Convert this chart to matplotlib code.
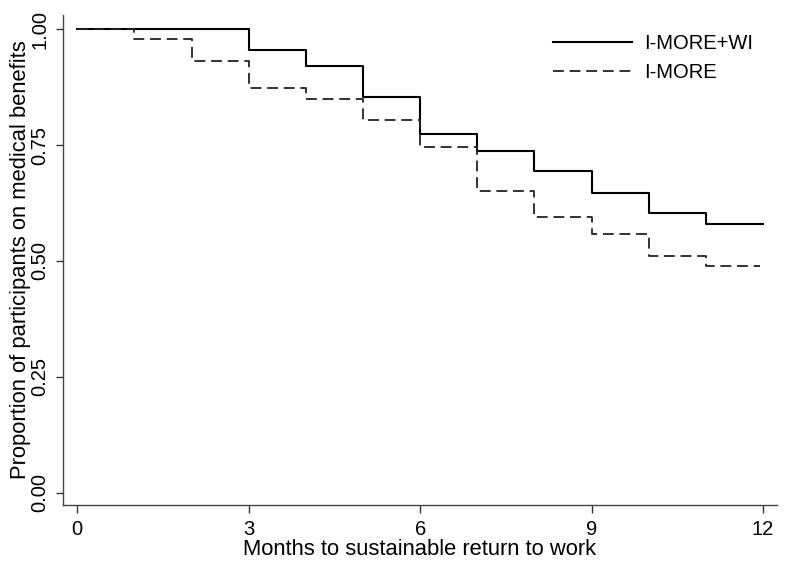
import matplotlib
matplotlib.use("Agg")
import matplotlib.pyplot as plt
import numpy as np

plt.rcParams['font.family'] = ['Liberation Sans', 'DejaVu Sans']

# months and survival proportions
months = [0, 1, 2, 3, 4, 5, 6, 7, 8, 9, 10, 11, 12]
wi = [1.000, 1.000, 1.000, 0.955, 0.920, 0.853, 0.774, 0.738, 0.694, 0.647, 0.603, 0.580, 0.580]
imore = [1.000, 0.978, 0.931, 0.872, 0.849, 0.804, 0.746, 0.651, 0.594, 0.558, 0.511, 0.489, 0.489]

xticks = [0, 3, 6, 9, 12]
yticks = [0.0, 0.25, 0.5, 0.75, 1.0]
ylabels = ['0.00', '0.25', '0.50', '0.75', '1.00']

fig = plt.figure(figsize=(7.87, 5.63), dpi=100)
ax = fig.add_axes([0.080, 0.103, 0.907, 0.870])

ax.step(months, wi, where='post', color='black', lw=1.5, label='I-MORE+WI')
ax.step(months[:-1] + [11.95], imore, where='post', color='#222222', lw=1.3,
        ls=(0, (6, 3.2)), label='I-MORE')

ax.set_xlim(-0.25, 12.24)
ax.set_ylim(-0.0266, 1.03)
ax.set_xticks(xticks)
ax.set_yticks(yticks)
ax.set_yticklabels(ylabels, rotation=90, va='center')
ax.tick_params(axis='both', labelsize=14.5, width=1, color='#333333')
ax.tick_params(axis='x', length=6, pad=5)
ax.tick_params(axis='y', length=5, pad=5)

for s in ['top', 'right']:
    ax.spines[s].set_visible(False)
for s in ['left', 'bottom']:
    ax.spines[s].set_color('#444444')
    ax.spines[s].set_linewidth(1)

ax.set_xlabel('Months to sustainable return to work', fontsize=15.8, labelpad=0)
ax.set_ylabel('Proportion of participants on medical benefits', fontsize=15.8, labelpad=-1)

fig.legend(loc='upper left', frameon=False, fontsize=14.5, handlelength=3.9,
           handletextpad=0.6, borderpad=0, borderaxespad=0,
           bbox_to_anchor=(0.7027, 0.940), labelspacing=0.5)

fig.savefig('out.png', dpi=100)
